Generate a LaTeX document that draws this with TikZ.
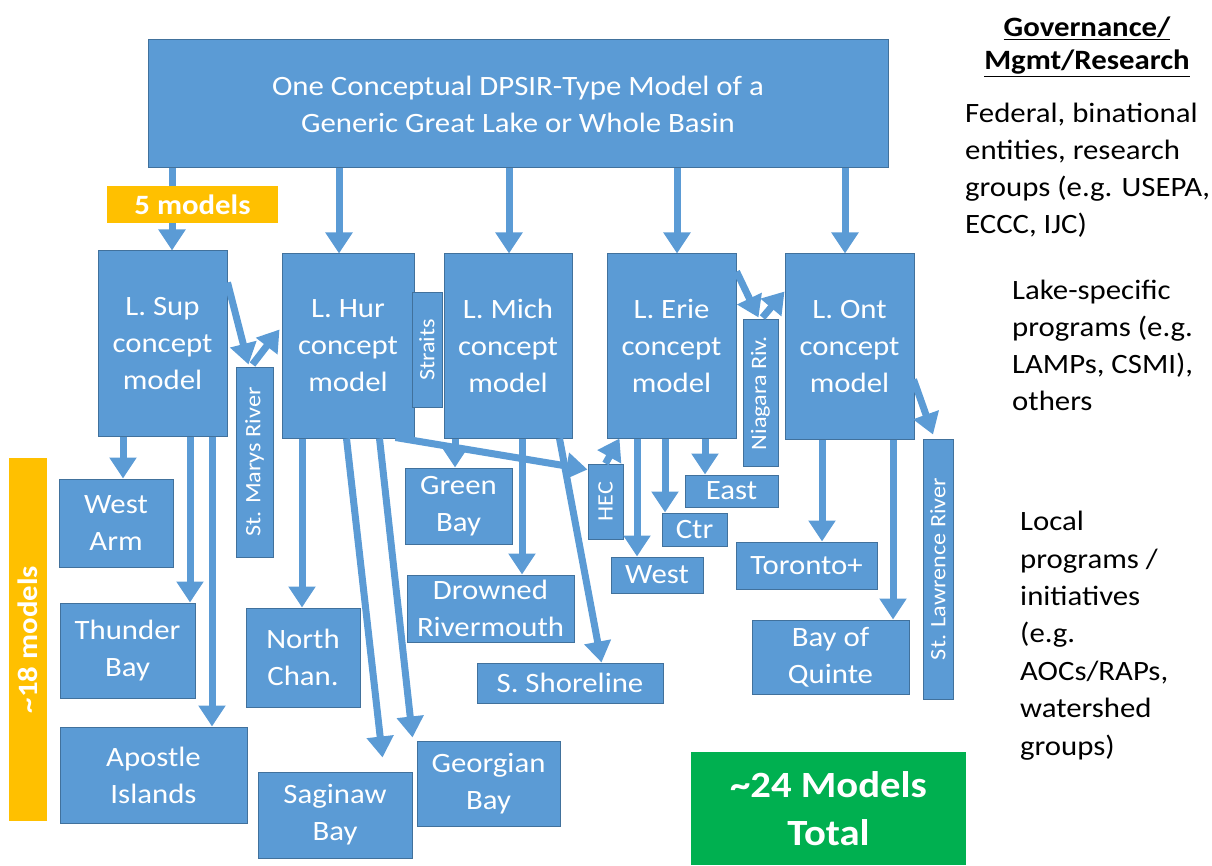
\documentclass[tikz,border=0pt]{standalone}
\usepackage{fontspec}
\usepackage{graphicx}
\setmainfont{Carlito}[FakeStretch=1.1]
\usetikzlibrary{arrows.meta,calc}
\definecolor{blu}{HTML}{5B9BD5}
\definecolor{bdr}{HTML}{41719C}
\definecolor{org}{HTML}{FFC000}
\definecolor{grn}{HTML}{00B050}
\begin{document}
\begin{tikzpicture}[x=1pt,y=-1pt,
  box/.style={draw=bdr, line width=1pt, fill=blu, text=white, inner sep=0pt, align=center,
              font=\fontsize{28}{37}\selectfont},
  vlab/.style={box, font=\fontsize{22}{24}\selectfont},
  arr/.style={draw=blu, line width=7pt, -{Triangle[width=26pt,length=21pt]}},
  note/.style={inner sep=0pt, align=left, anchor=north west, font=\fontsize{28}{37}\selectfont}]
\useasboundingbox (0,0) rectangle (1212,866);

% top box
\node[box, minimum width=740, minimum height=128] (top) at (518,104)
  {One Conceptual DPSIR-Type Model of a\\Generic Great Lake or Whole Basin};

% lake boxes
\node[box, minimum width=129, minimum height=185] (sup) at (162.5,343.5) {L. Sup\\concept\\model};
\node[box, minimum width=132, minimum height=184] (hur) at (348,346) {L. Hur\\concept\\model};
\node[box, minimum width=128, minimum height=184] (mich) at (508,346) {L. Mich\\concept\\model};
\node[box, minimum width=129, minimum height=184] (erie) at (671.5,346) {L. Erie\\concept\\model};
\node[box, minimum width=129, minimum height=185] (ont) at (849.5,346.5) {L. Ont\\concept\\model};

% connecting channels
\node[vlab, minimum width=30, minimum height=114] (str) at (427,350) {\rotatebox{90}{Straits}};
\node[vlab, minimum width=37, minimum height=190] (smr) at (254.5,462) {\rotatebox{90}{St. Marys River}};
\node[vlab, minimum width=35, minimum height=146] (nia) at (760.5,393) {\rotatebox{90}{Niagara Riv.}};
\node[vlab, minimum width=35, minimum height=75] (hec) at (605.5,501.5) {\rotatebox{90}{HEC}};
\node[vlab, minimum width=30, minimum height=260] (stl) at (938,569) {\rotatebox{90}{St. Lawrence River}};

% local boxes
\node[box, minimum width=114, minimum height=88] (wa) at (116,523) {West\\Arm};
\node[box, minimum width=135, minimum height=95] (tb) at (127.5,650.5) {Thunder\\Bay};
\node[box, minimum width=187, minimum height=96] (ai) at (153.5,775) {Apostle\\Islands};
\node[box, minimum width=114, minimum height=99] (nc) at (303,657.5) {North\\Chan.};
\node[box, minimum width=154, minimum height=86] (sag) at (335,815) {Saginaw\\Bay};
\node[box, minimum width=143, minimum height=85] (geo) at (488.5,783.5) {Georgian\\Bay};
\node[box, minimum width=107, minimum height=76] (gb) at (458.5,506) {Green\\Bay};
\node[box, minimum width=167, minimum height=67] (drm) at (490.5,608.5) {Drowned\\Rivermouth};
\node[box, minimum width=186, minimum height=40] (ssh) at (570,683) {S. Shoreline};
\node[box, minimum width=93, minimum height=32] (east) at (731.5,491) {East};
\node[box, minimum width=65, minimum height=33] (ctr) at (694.5,529.5) {Ctr};
\node[box, minimum width=92, minimum height=36] (west) at (657,575) {West};
\node[box, minimum width=141, minimum height=47] (tor) at (806.5,565.5) {Toronto+};
\node[box, minimum width=157, minimum height=74] (boq) at (830.5,657) {Bay of\\Quinte};

% x positions of straight arrows
\foreach \n/\x in {c1/172,c2/339,c3/509,c4/677,c5/845,d1/123,d2/190,d3/212,d4/302,
                   d5/455,d6/522,d7/637,d8/665,d9/705,d10/822,d11/893}
  \coordinate (\n) at (\x,0);

% arrows from the generic model
\draw[arr] (top.south -| c1) -- (sup.north -| c1);
\draw[arr] (top.south -| c2) -- (hur.north -| c2);
\draw[arr] (top.south -| c3) -- (mich.north -| c3);
\draw[arr] (top.south -| c4) -- (erie.north -| c4);
\draw[arr] (top.south -| c5) -- (ont.north -| c5);

% connecting channel arrows
\draw[arr] ($(sup.north east)+(0,32)$) -- ($(smr.north)+(-6,-2)$);
\draw[arr] ($(smr.north)+(-2,-2)$) -- ($(hur.north west)+(-2,76)$);
\draw[arr] ($(erie.north east)+(0,18)$) -- ($(nia.north)+(-2,-2)$);
\draw[arr] ($(nia.north)+(2,-2)$) -- ($(ont.north west)+(0,38)$);
\draw[arr] ($(ont.north east)+(-1,126)$) -- ($(stl.north)+(-5,-4)$);
\draw[arr] ($(hur.south east)+(-19,-1)$) -- ($(hec.north west)+(0,6)$);
\draw[arr] (hec.north) -- ($(erie.south west)+(13,0)$);

% arrows to local boxes
\draw[arr] (sup.south -| d1) -- (wa.north -| d1);
\draw[arr] (sup.south -| d2) -- (tb.north -| d2);
\draw[arr] (sup.south -| d3) -- (ai.north -| d3);
\draw[arr] (hur.south -| d4) -- (nc.north -| d4);
\draw[arr] ($(hur.south west)+(65,0)$) -- ($(sag.north west)+(125,-14)$);
\draw[arr] ($(hur.south west)+(98,0)$) -- ($(geo.north west)+(-4,-3)$);
\draw[arr] (mich.south -| d5) -- (gb.north -| d5);
\draw[arr] (mich.south -| d6) -- (drm.north -| d6);
\draw[arr] ($(mich.south west)+(116,0)$) -- ($(ssh.north west)+(125,0)$);
\draw[arr] (erie.south -| d7) -- (west.north -| d7);
\draw[arr] (erie.south -| d8) -- (ctr.north -| d8);
\draw[arr] (erie.south -| d9) -- (east.north -| d9);
\draw[arr] (ont.south -| d10) -- (tor.north -| d10);
\draw[arr] (ont.south -| d11) -- (boq.north -| d11);

% count labels
\node[fill=org, text=white, inner sep=0pt, minimum width=171, minimum height=37,
      font=\bfseries\fontsize{28}{30}\selectfont] (five) at (192.5,204.5) {5 models};
\node[fill=org, text=white, inner sep=0pt, minimum width=38, minimum height=363,
      font=\bfseries\fontsize{28}{30}\selectfont] (e18) at (28,639.5) {\rotatebox{90}{\textasciitilde18 models}};
\node[fill=grn, text=white, inner sep=0pt, minimum width=275, minimum height=113, align=center,
      font=\bfseries\fontsize{37}{48}\selectfont] (tot) at (828.5,808.5) {\textasciitilde24 Models\\Total};

% right-hand column
\node[inner sep=0pt, align=center, anchor=north, font=\bfseries\fontsize{28}{33}\selectfont] (gov) at (1087,17)
  {\underline{Governance/}\\\underline{Mgmt/Research}};
\node[note] (fed) at (965,103) {Federal, binational\\entities, research\\groups (e.g. USEPA,\\ECCC, IJC)};
\node[note] (lake) at (1012,280) {Lake-specific\\programs (e.g.\\LAMPs, CSMI),\\others};
\node[note, font=\fontsize{28}{37.4}\selectfont] (loc) at (1020,511) {Local\\programs /\\initiatives\\(e.g.\\AOCs/RAPs,\\watershed\\groups)};
\end{tikzpicture}
\end{document}
